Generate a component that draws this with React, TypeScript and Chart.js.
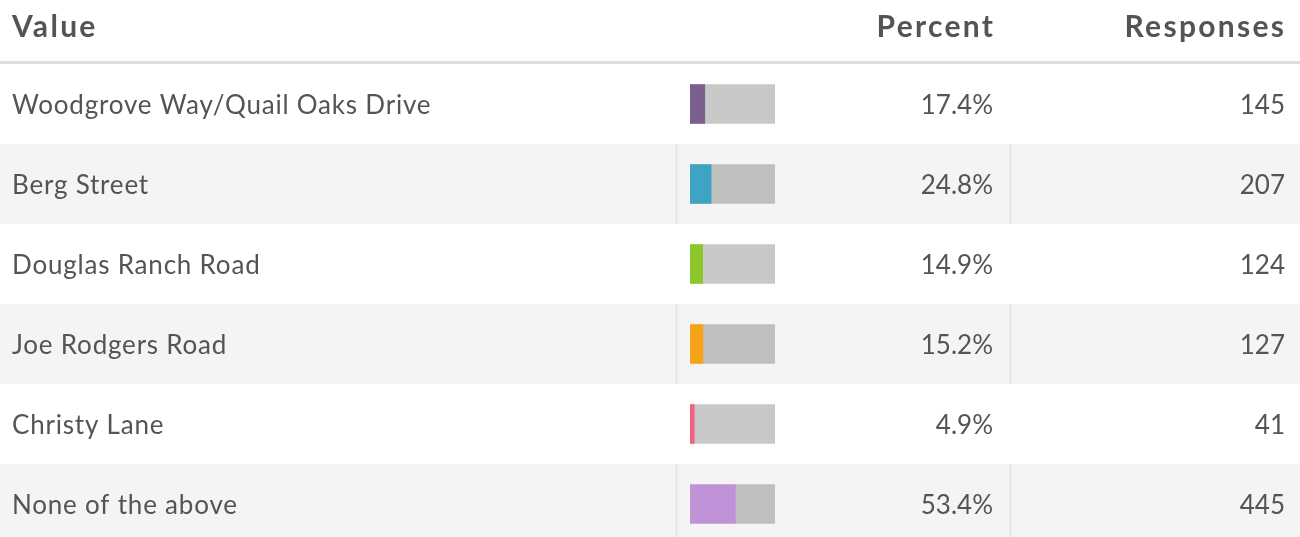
import React, { useEffect, useRef } from "react";
import { Chart, registerables } from "chart.js";

Chart.register(...registerables);

const headers = ["Value", "Percent", "Responses"];
const categories = [
  "Woodgrove Way/Quail Oaks Drive",
  "Berg Street",
  "Douglas Ranch Road",
  "Joe Rodgers Road",
  "Christy Lane",
  "None of the above",
];
const percents = [17.4, 24.8, 14.9, 15.2, 4.9, 53.4];
const responses = [145, 207, 124, 127, 41, 445];
const barColors = ["#7b5f8f", "#3fa3c4", "#8cc62c", "#f6a31b", "#ee6283", "#c092d8"];
const remainder = percents.map((p) => 100 - p);

const W = 1300;
const H = 544;
const TEXT = "#545454";
const FONT = "Lato, 'Noto Sans', sans-serif";

const tablePlugin = {
  id: "tablePlugin",
  beforeDraw(chart: any) {
    const ctx = chart.ctx as CanvasRenderingContext2D;
    const y = chart.scales.y;
    const n = categories.length;
    const band = (y.bottom - y.top) / n;
    ctx.save();
    ctx.fillStyle = "#ffffff";
    ctx.fillRect(0, 0, W, H);
    ctx.fillStyle = "#dddddd";
    ctx.fillRect(0, y.top - 3, W, 3);
    for (let i = 0; i < n; i++) {
      const top = y.getPixelForValue(i) - band / 2;
      if (i % 2 === 1) {
        ctx.fillStyle = "#f4f4f4";
        ctx.fillRect(0, top, W, band);
        ctx.fillStyle = "#e7e7e7";
        ctx.fillRect(675.5, top, 2, band);
        ctx.fillRect(1009.5, top, 2, band);
      }
    }
    ctx.restore();
  },
  afterDraw(chart: any) {
    const ctx = chart.ctx as CanvasRenderingContext2D;
    const y = chart.scales.y;
    ctx.save();
    ctx.fillStyle = TEXT;
    ctx.textBaseline = "alphabetic";
    const hs = 2.3;
    ctx.font = `bold 30px ${FONT}`;
    (ctx as any).letterSpacing = hs + "px";
    ctx.textAlign = "left";
    ctx.fillText(headers[0], 12, 37);
    ctx.textAlign = "right";
    ctx.fillText(headers[1], 993 + hs, 37);
    ctx.fillText(headers[2], 1284 + hs, 37);
    ctx.font = `26px ${FONT}`;
    for (let i = 0; i < categories.length; i++) {
      const cy = y.getPixelForValue(i) + 9.5;
      (ctx as any).letterSpacing = "0.8px";
      ctx.textAlign = "left";
      ctx.fillText(categories[i], 12, cy);
      (ctx as any).letterSpacing = "0px";
      ctx.textAlign = "right";
      ctx.fillText(percents[i].toFixed(1) + "%", 993, cy);
      ctx.fillText(String(responses[i]), 1285, cy);
    }
    ctx.restore();
  },
};

export default function App() {
  const ref = useRef<HTMLCanvasElement | null>(null);
  useEffect(() => {
    document.body.style.margin = "0";
    if (!ref.current) return;
    const chart = new Chart(ref.current, {
      type: "bar",
      data: {
        labels: categories,
        datasets: [
          {
            data: percents,
            backgroundColor: barColors,
            borderWidth: 0,
            barThickness: 39,
          },
          {
            data: remainder,
            backgroundColor: "rgba(0,0,0,0.215)",
            borderWidth: 0,
            barThickness: 39,
          },
        ],
      },
      options: {
        indexAxis: "y",
        responsive: false,
        animation: false,
        events: [],
        layout: { padding: { left: 690, right: W - 775, top: 64, bottom: 0 } },
        scales: {
          x: { display: false, stacked: true, min: 0, max: 100 },
          y: { display: false, stacked: true },
        },
        plugins: {
          legend: { display: false },
          tooltip: { enabled: false },
          title: { display: false },
        },
      },
      plugins: [tablePlugin],
    });
    return () => chart.destroy();
  }, []);
  return (
    <div style={{ position: "absolute", left: 0, top: 0, width: W, height: 537, overflow: "hidden" }}>
      <canvas ref={ref} width={W} height={H} style={{ display: "block" }} />
    </div>
  );
}
